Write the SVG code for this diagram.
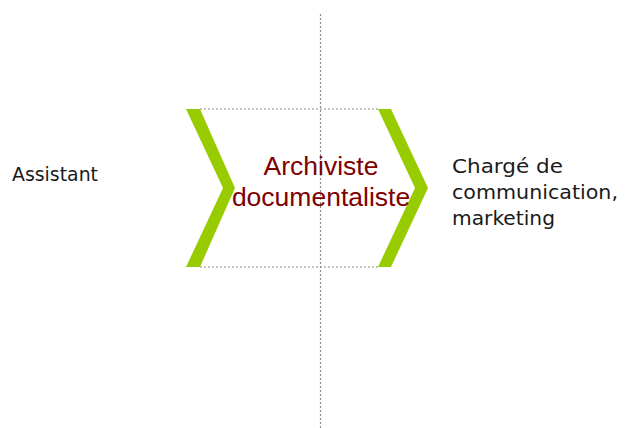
<svg xmlns="http://www.w3.org/2000/svg" width="625" height="428" viewBox="0 0 625 428">
  <style>
    .guide { stroke: #8c8c8c; stroke-width: 1.2; stroke-dasharray: 2 2; fill: none; }
    .chevron { fill: #99cc00; }
    .side { font-family: "DejaVu Sans", "Liberation Sans", sans-serif; font-size: 19px; fill: #1a1a1a; }
    .center { font-family: "Liberation Sans", Arial, sans-serif; font-size: 26.5px; fill: #800000; text-anchor: middle; }
  </style>
  <rect width="625" height="428" fill="#ffffff"/>
  <g id="connectors">
    <line class="guide" x1="320.5" y1="14" x2="320.5" y2="428"/>
    <line class="guide" x1="200" y1="109" x2="379" y2="109"/>
    <line class="guide" x1="200" y1="267" x2="379" y2="267"/>
  </g>
  <g id="chevron-left">
    <polygon class="chevron" points="186,109 200,109 235,188 200,267 186,267 223,188"/>
  </g>
  <g id="chevron-right">
    <polygon class="chevron" points="378,109 391,109 428,188 391,267 378,267 415,188"/>
  </g>
  <g id="node-assistant">
    <text class="side" x="12" y="181" textLength="86" lengthAdjust="spacingAndGlyphs">Assistant</text>
  </g>
  <g id="node-archiviste">
    <text class="center" x="321" y="175">Archiviste</text>
    <text class="center" x="321" y="206">documentaliste</text>
  </g>
  <g id="node-communication">
    <text class="side" x="452" y="172.5" textLength="111" lengthAdjust="spacingAndGlyphs">Chargé de</text>
    <text class="side" x="452" y="199" textLength="166" lengthAdjust="spacingAndGlyphs">communication,</text>
    <text class="side" x="452" y="224.5" textLength="103" lengthAdjust="spacingAndGlyphs">marketing</text>
  </g>
</svg>
